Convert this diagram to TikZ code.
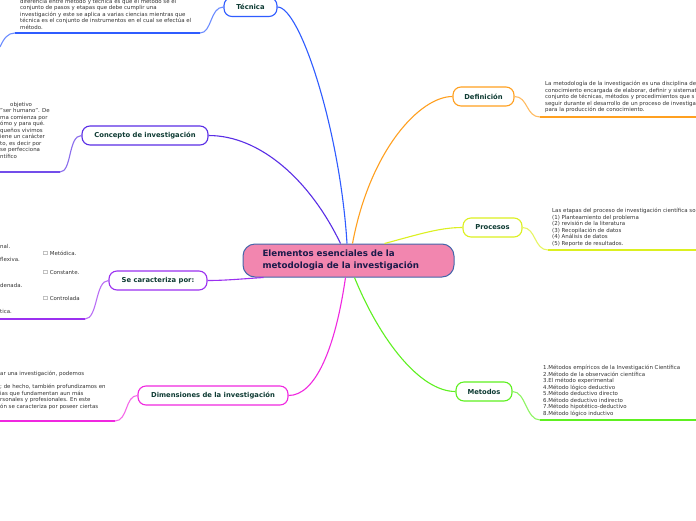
\documentclass[tikz,border=0pt]{standalone}
\usepackage{fontspec}
\setmainfont{DejaVu Sans}
\begin{document}
\begin{tikzpicture}[x=1pt,y=-1pt,
  topic/.style={draw,rounded corners=8pt,line width=1.1pt,fill=white,minimum height=19pt,inner xsep=6pt,
    font=\fontsize{6.8}{7.5}\selectfont\bfseries,text=labcol},
  note/.style={anchor=north west,inner sep=0pt,align=left,font=\fontsize{5.45}{6.5}\selectfont,text=notecol},
  conn/.style={line width=1.1pt},
  uline/.style={line width=1.8pt}]
\definecolor{labcol}{HTML}{0E3B33}
\definecolor{notecol}{HTML}{333333}
\definecolor{cfill}{HTML}{F286AF}
\definecolor{cborder}{HTML}{4466AA}
\definecolor{ctitle}{HTML}{1A1A4A}
\definecolor{ctec}{HTML}{2F5CFF}
\definecolor{ccon}{HTML}{5A2EE6}
\definecolor{ccar}{HTML}{9B30F0}
\definecolor{cdim}{HTML}{F028E0}
\definecolor{cdef}{HTML}{FFA020}
\definecolor{cpro}{HTML}{DCF020}
\definecolor{cmet}{HTML}{5EF020}
\useasboundingbox (0,0) rectangle (696,520);
\clip (0,0) rectangle (696,520);
\fill[white] (0,0) rectangle (696,520);

% central node
\node[draw=cborder,fill=cfill,rounded corners=12pt,line width=1pt,minimum width=211pt,minimum height=33pt,
  text width=172pt,align=left,font=\fontsize{8.7}{12}\selectfont\bfseries,text=ctitle] (center) at (348.5,260.5)
  {Elementos esenciales de la\\metodologia de la investigación};

% topic nodes
\node[topic,draw=ctec,minimum width=53pt] (tec) at (250.5,7) {Técnica};
\node[topic,draw=ccon,minimum width=126pt] (con) at (145,135.5) {Concepto de investigación};
\node[topic,draw=ccar,minimum width=98pt] (car) at (158,280.5) {Se caracteriza por:};
\node[topic,draw=cdim,minimum width=150pt] (dim) at (213,395.5) {Dimensiones de la investigación};
\node[topic,draw=cdef,minimum width=61pt] (def) at (483.5,96.5) {Definición};
\node[topic,draw=cpro,minimum width=59pt] (pro) at (492.5,227.5) {Procesos};
\node[topic,draw=cmet,minimum width=56pt] (met) at (484,391.5) {Metodos};

% free ends of underlines
\coordinate (tecA) at (200,33);
\coordinate (tecB) at (15,33);
\coordinate (tecC) at (0,47);
\coordinate (conA) at (60,172);
\coordinate (conB) at (0,172);
\coordinate (carA) at (85,319);
\coordinate (carB) at (0,319);
\coordinate (dimA) at (115,421);
\coordinate (dimB) at (0,421);
\coordinate (defA) at (540,117);
\coordinate (defB) at (696,117);
\coordinate (proA) at (548,250);
\coordinate (proB) at (696,250);
\coordinate (metA) at (540,420);
\coordinate (metB) at (696,420);

% main connectors
\draw[conn,ctec] ([xshift=-1.5pt]center.north) .. controls (340,130) and (300,7) .. (tec.east);
\draw[conn,ccon] ([xshift=-8pt]center.north) .. controls (310,180) and (260,135.5) .. (con.east);
\draw[conn,ccar] ([xshift=-85pt]center.south) .. controls (240,279) and (225,280.5) .. (car.east);
\draw[conn,cdim] ([xshift=-3pt]center.south) .. controls (335,350) and (315,395.5) .. (dim.east);
\draw[conn,cdef] ([xshift=4pt]center.north) .. controls (370,150) and (420,96.5) .. (def.west);
\draw[conn,cpro] ([xshift=36pt]center.north) .. controls (420,234) and (440,227.5) .. (pro.west);
\draw[conn,cmet] ([xshift=6pt]center.south) .. controls (380,340) and (420,391.5) .. (met.west);

% branches to underlines
\draw[conn,ctec!70] (tec.west) .. controls (210,7) and (212,33) .. (tecA);
\draw[uline,ctec] (tecA) -- (tecB);
\draw[conn,ctec!70] (tecB) .. controls (8,33) and (4,38) .. (tecC);
\draw[conn,ccon!70] (con.west) .. controls (68,135.5) and (72,172) .. (conA);
\draw[uline,ccon!85] (conA) -- (conB);
\draw[conn,ccar!70] (car.west) .. controls (95,280.5) and (98,319) .. (carA);
\draw[uline,ccar] (carA) -- (carB);
\draw[conn,cdim!70] (dim.west) .. controls (125,395.5) and (128,421) .. (dimA);
\draw[uline,cdim] (dimA) -- (dimB);
\draw[conn,cdef!70] (def.east) .. controls (528,96.5) and (526,117) .. (defA);
\draw[uline,cdef] (defA) -- (defB);
\draw[conn,cpro!70] (pro.east) .. controls (536,227.5) and (534,250) .. (proA);
\draw[uline,cpro] (proA) -- (proB);
\draw[conn,cmet!70] (met.east) .. controls (526,391.5) and (526,420) .. (metA);
\draw[uline,cmet] (metA) -- (metB);

% notes
\node[note] (ntec) at (20,-1.5) {diferencia entre método y técnica es que el método se el\\
conjunto de pasos y etapas que debe cumplir una\\
investigación y este se aplica a varias ciencias mientras que\\
técnica es el conjunto de instrumentos en el cual se efectúa el\\
método.};
\node[note] (ncon) at (0,102) {\hspace*{10pt}objetivo\\
"ser humano". De\\
ma comienza por\\
ómo y para qué.\\
queños vivimos\\
iene un carácter\\
to, es decir por\\
se perfecciona\\
ntífico};
\node[note] (ncar1) at (0,244) {nal.};
\node[note] (ncar2) at (0,257) {flexiva.};
\node[note] (ncar3) at (0,283) {denada.};
\node[note] (ncar4) at (0,309) {tica.};
\node[note] (ncar5) at (43,251) {☐ Metódica.};
\node[note] (ncar6) at (43,270) {☐ Constante.};
\node[note] (ncar7) at (43,296) {☐ Controlada};
\node[note] (ndim) at (0,371) {ar una investigación, podemos\\[6.5pt]
; de hecho, también profundizamos en\\
ias que fundamentan aun más\\
rsonales y profesionales. En este\\
ón se caracteriza por poseer ciertas};
\node[note] (ndef) at (545,81) {La metodología de la investigación es una disciplina de\\
conocimiento encargada de elaborar, definir y sistemat\\
conjunto de técnicas, métodos y procedimientos que s\\
seguir durante el desarrollo de un proceso de investiga\\
para la producción de conocimiento.};
\node[note] (npro) at (552,208) {Las etapas del proceso de investigación científica so\\
(1) Planteamiento del problema\\
(2) revisión de la literatura\\
(3) Recopilación de datos\\
(4) Análisis de datos\\
(5) Reporte de resultados.};
\node[note] (nmet) at (543,365) {1.Métodos empíricos de la Investigación Científica\\
2.Método de la observación científica\\
3.El método experimental\\
4.Método lógico deductivo\\
5.Método deductivo directo\\
6.Método deductivo indirecto\\
7.Método hipotético-deductivo\\
8.Método lógico inductivo};
\end{tikzpicture}
\end{document}
